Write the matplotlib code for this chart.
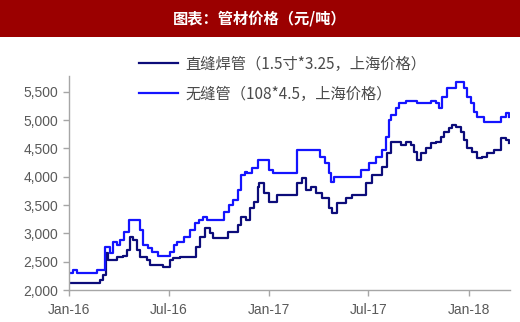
import numpy as np
import pandas as pd
import matplotlib
matplotlib.use('Agg')
import matplotlib.pyplot as plt
import matplotlib.dates as mdates
from matplotlib.patches import Rectangle
from matplotlib.ticker import FuncFormatter

plt.rcParams['font.family'] = ['Liberation Sans', 'Noto Sans CJK SC', 'DejaVu Sans']

title = '图表：管材价格（元/吨）'
label_welded = '直缝焊管（1.5寸*3.25，上海价格）'
label_seamless = '无缝管（108*4.5，上海价格）'

# 直缝焊管
welded_dates = ['2016-01-01', '2016-02-21', '2016-02-26', '2016-03-03', '2016-03-08', '2016-03-12',
                '2016-03-29', '2016-04-08', '2016-04-16', '2016-04-21', '2016-04-27', '2016-05-04',
                '2016-05-09', '2016-05-22', '2016-05-28', '2016-06-20', '2016-07-03', '2016-07-09',
                '2016-07-21', '2016-08-21', '2016-08-27', '2016-09-05', '2016-09-14', '2016-09-20',
                '2016-10-17', '2016-11-04', '2016-11-11', '2016-11-20', '2016-11-26', '2016-12-05',
                '2016-12-11', '2016-12-14', '2016-12-23', '2017-01-01', '2017-01-16', '2017-02-11',
                '2017-02-20', '2017-03-01', '2017-03-10', '2017-03-19', '2017-03-28', '2017-04-08',
                '2017-04-21', '2017-04-26', '2017-05-05', '2017-05-22', '2017-06-02', '2017-06-18',
                '2017-06-27', '2017-07-08', '2017-07-26', '2017-08-05', '2017-08-12', '2017-08-30',
                '2017-09-08', '2017-09-17', '2017-09-23', '2017-09-28', '2017-10-06', '2017-10-15',
                '2017-10-24', '2017-11-02', '2017-11-11', '2017-11-16', '2017-11-26', '2017-12-01',
                '2017-12-08', '2017-12-17', '2017-12-23', '2017-12-28', '2018-01-06', '2018-01-16',
                '2018-01-25', '2018-02-03', '2018-02-16', '2018-02-28', '2018-03-09', '2018-03-15']
welded_values = [2120, 2120, 2180, 2260, 2650, 2530,
                 2580, 2600, 2700, 2940, 2880, 2700,
                 2580, 2530, 2440, 2400, 2530, 2560,
                 2580, 2760, 2940, 3090, 3000, 2920,
                 3030, 3150, 3290, 3240, 3450, 3560,
                 3820, 3890, 3710, 3560, 3680, 3680,
                 3890, 3980, 3770, 3820, 3710, 3630,
                 3450, 3360, 3540, 3630, 3680, 3680,
                 3890, 4030, 4170, 4420, 4620, 4560,
                 4620, 4560, 4440, 4300, 4420, 4510,
                 4600, 4620, 4700, 4790, 4860, 4920,
                 4880, 4790, 4650, 4510, 4440, 4330,
                 4350, 4420, 4480, 4690, 4650, 4600]

# 无缝管
seamless_dates = ['2016-01-01', '2016-01-08', '2016-01-16', '2016-02-21', '2016-03-07', '2016-03-16',
                  '2016-03-21', '2016-03-29', '2016-04-03', '2016-04-10', '2016-04-19', '2016-05-04',
                  '2016-05-09', '2016-05-15', '2016-05-24', '2016-05-31', '2016-06-11', '2016-07-03',
                  '2016-07-10', '2016-07-16', '2016-07-30', '2016-08-09', '2016-08-18', '2016-08-25',
                  '2016-09-01', '2016-09-10', '2016-10-11', '2016-10-20', '2016-10-26', '2016-11-04',
                  '2016-11-11', '2016-11-17', '2016-11-22', '2016-11-30', '2016-12-11', '2017-01-01',
                  '2017-01-07', '2017-02-20', '2017-04-03', '2017-04-12', '2017-04-21', '2017-04-24',
                  '2017-04-30', '2017-06-18', '2017-07-03', '2017-07-15', '2017-07-26', '2017-08-03',
                  '2017-08-08', '2017-08-12', '2017-08-21', '2017-08-26', '2017-09-08', '2017-09-28',
                  '2017-10-24', '2017-11-02', '2017-11-07', '2017-11-13', '2017-11-22', '2017-12-08',
                  '2017-12-23', '2017-12-28', '2018-01-05', '2018-01-10', '2018-01-16', '2018-01-28',
                  '2018-02-28', '2018-03-09', '2018-03-15']
seamless_values = [2300, 2350, 2300, 2350, 2760, 2650,
                   2850, 2800, 2880, 3020, 3230, 3230,
                   3060, 2800, 2740, 2670, 2600, 2670,
                   2800, 2850, 2940, 3060, 3180, 3240,
                   3290, 3240, 3380, 3500, 3590, 3770,
                   4030, 4090, 4070, 4150, 4300, 4120,
                   4070, 4480, 4350, 4240, 4070, 3910,
                   4000, 4120, 4240, 4350, 4480, 4700,
                   5000, 5090, 5220, 5310, 5340, 5310,
                   5340, 5310, 5220, 5410, 5570, 5680,
                   5570, 5410, 5310, 5150, 5060, 4970,
                   5060, 5130, 5060]

yticks = [2000, 2500, 3000, 3500, 4000, 4500, 5000, 5500]
xtick_dates = ['2016-01-01', '2016-07-01', '2017-01-01', '2017-07-01', '2018-01-01']
xtick_labels = ['Jan-16', 'Jul-16', 'Jan-17', 'Jul-17', 'Jan-18']

fig = plt.figure(figsize=(5.2, 3.22), dpi=100)
fig.patches.append(Rectangle((0, 1 - 37 / 322), 1, 37 / 322, transform=fig.transFigure,
                             facecolor='#9b0000', edgecolor='none', zorder=0))
fig.text(0.5, 1 - 19 / 322, title, color='white', fontsize=11, fontweight='bold',
         ha='center', va='center', family=['Noto Sans CJK SC', 'DejaVu Sans'])

ax = fig.add_axes([69 / 520, 1 - 290 / 322, (510 - 69) / 520, (290 - 76) / 322])

ax.plot(pd.to_datetime(welded_dates), welded_values, color='#0c0c7a', lw=1.6,
        drawstyle='steps-post', label=label_welded)
ax.plot(pd.to_datetime(seamless_dates), seamless_values, color='#1414ff', lw=1.6,
        drawstyle='steps-post', label=label_seamless)

ax.set_xlim(pd.Timestamp('2016-01-01'), pd.Timestamp('2018-03-17'))
ax.set_ylim(2000, 5780)
ax.set_yticks(yticks)
ax.yaxis.set_major_formatter(FuncFormatter(lambda v, p: f'{int(v):,}'))
ax.set_xticks(pd.to_datetime(xtick_dates))
ax.set_xticklabels(xtick_labels)

for s in ['top', 'right']:
    ax.spines[s].set_visible(False)
for s in ['left', 'bottom']:
    ax.spines[s].set_color('#a6a6a6')
    ax.spines[s].set_linewidth(1)
ax.tick_params(colors='#a6a6a6', labelcolor='#595959', labelsize=10, length=4, width=1)
ax.tick_params(axis='x', pad=5)
ax.tick_params(axis='y', pad=4)

leg = fig.legend(loc='upper left', bbox_to_anchor=(125 / 520, 1 - 42 / 322), frameon=False,
                 handlelength=2.6, handletextpad=0.45, labelspacing=0.85,
                 prop={'family': ['Noto Sans CJK SC', 'DejaVu Sans'], 'size': 11, 'weight': 'light'})
for t in leg.get_texts():
    t.set_color('#4a4a4a')

fig.savefig('out.png', dpi=100)
